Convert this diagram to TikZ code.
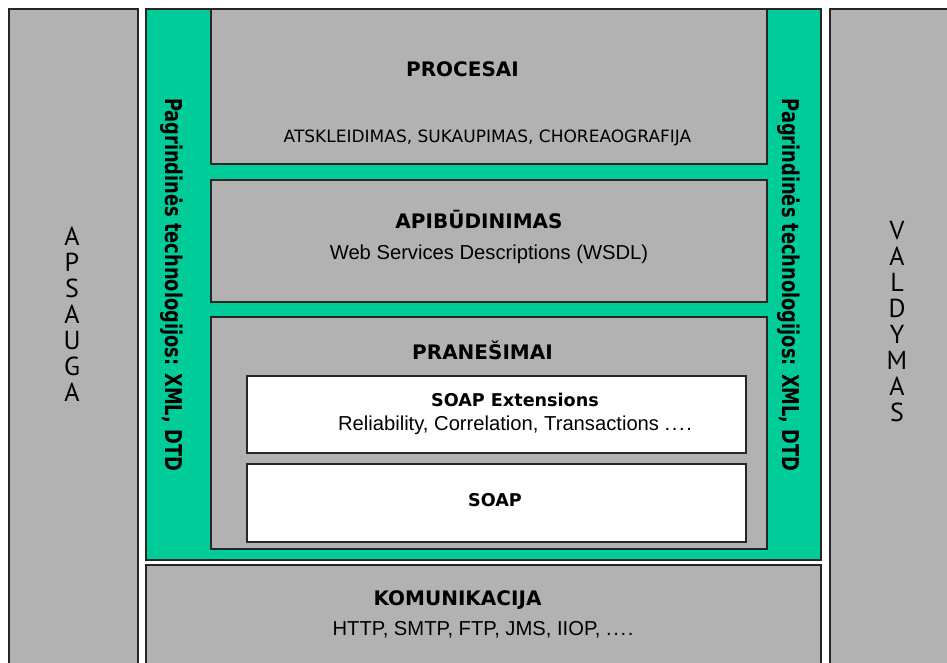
\documentclass[tikz,border=0pt]{standalone}
\usepackage{fontspec}
\newfontfamily\dejavu{DejaVu Sans}
\newfontfamily\libsans{Liberation Sans}
\newfontfamily\ptsans{PT Sans}
\definecolor{panelgray}{RGB}{178,178,178}
\definecolor{stackgreen}{RGB}{0,204,153}
\definecolor{edgeline}{RGB}{38,38,38}
\newcommand\spaceddots{.\kern1.6pt.\kern1.6pt.\kern1.6pt.}
\tikzset{
  panel/.style={draw=edgeline, line width=1.3pt, fill=panelgray},
  greenpanel/.style={draw=edgeline, line width=1.3pt, fill=stackgreen},
  whitepanel/.style={draw=edgeline, line width=1.3pt, fill=white},
  head/.style={anchor=base, inner sep=0pt, font=\dejavu\bfseries\fontsize{20}{24}\selectfont},
  subhead/.style={anchor=base, inner sep=0pt, font=\dejavu\bfseries\fontsize{17.6}{21}\selectfont},
  capsline/.style={anchor=base, inner sep=0pt, font=\dejavu\fontsize{17}{20}\selectfont},
  plainline/.style={anchor=base, inner sep=0pt, font=\libsans\fontsize{20.2}{24}\selectfont},
  sidebar/.style={anchor=base, rotate=-90, inner sep=0pt, font=\dejavu\bfseries\fontsize{17.8}{21}\selectfont},
  letterstack/.style={align=center, inner sep=0pt, font=\ptsans\fontsize{26}{26}\selectfont}
}
\begin{document}
\begin{tikzpicture}[x=1pt,y=-1pt]
  \useasboundingbox (0,0) rectangle (947,662);
  \clip (0,0) rectangle (947,662);
  \fill[white] (0,0) rectangle (947,662);

  % side columns
  \path[panel] (9,9) rectangle (138,700);
  \path[panel] (830,9) rectangle (970,700);

  % green frame holding the protocol layers
  \path[greenpanel] (146,9) rectangle (821,560);
  \path[panel] (211,9) rectangle (767,164);
  \path[panel] (211,180) rectangle (767,302);
  \path[panel] (211,317) rectangle (767,549);
  \path[whitepanel] (247,376) rectangle (746,453);
  \path[whitepanel] (247,464) rectangle (746,542);

  % transport layer
  \path[panel] (146,565) rectangle (821,700);

  % layer texts
  \node[head] (procesai) at (462.5,76) {PROCESAI};
  \node[capsline] (procesaiItems) at (487.5,142) {ATSKLEIDIMAS, SUKAUPIMAS, CHOREAOGRAFIJA};
  \node[head] (apibudinimas) at (479,228) {APIBŪDINIMAS};
  \node[plainline] (wsdl) at (489,259) {Web Services Descriptions (WSDL)};
  \node[head] (pranesimai) at (482.5,359.5) {PRANEŠIMAI};
  \node[subhead] (soapExt) at (515,406.5) {SOAP Extensions};
  \node[plainline] (soapExtItems) at (515,430) {Reliability, Correlation, Transactions \spaceddots};
  \node[subhead] (soap) at (495,506.5) {SOAP};
  \node[head] (komunikacija) at (457.5,605) {KOMUNIKACIJA};
  \node[plainline] (komItems) at (483,635) {HTTP, SMTP, FTP, JMS, IIOP, \spaceddots};

  % vertical labels
  \node[sidebar] (leftBar) at (165,284.5) {\scalebox{1}[1.3]{Pagrindinės technologijos: XML, DTD}};
  \node[sidebar] (rightBar) at (782,285) {\scalebox{1}[1.3]{Pagrindinės technologijos: XML, DTD}};
  \node[letterstack] (apsauga) at (72,314.2) {A\\P\\S\\A\\U\\G\\A};
  \node[letterstack] (valdymas) at (897,321.2) {V\\A\\L\\D\\Y\\M\\A\\S};
\end{tikzpicture}
\end{document}
